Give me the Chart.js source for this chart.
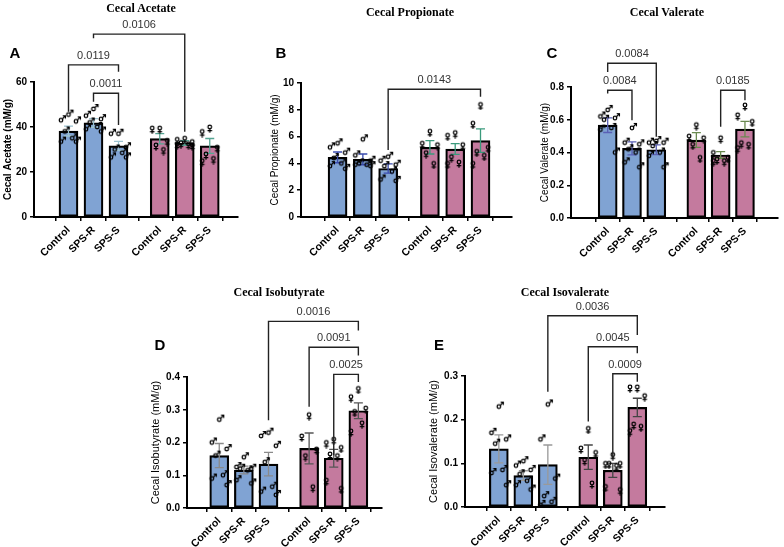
<!DOCTYPE html>
<html><head><meta charset="utf-8">
<script src="https://cdn.jsdelivr.net/npm/chart.js@4.4.1/dist/chart.umd.min.js"></script>
<style>
html,body{margin:0;padding:0;background:#fff;}
body{width:784px;height:547px;position:relative;overflow:hidden;}
canvas{position:absolute;}
.t{position:absolute;font-family:"Liberation Serif","Times New Roman",serif;font-weight:bold;font-size:12px;color:#000;transform:translate(-50%,-50%);white-space:nowrap;z-index:5;}
.l{position:absolute;font-family:"Liberation Sans",Arial,sans-serif;font-weight:bold;font-size:15px;color:#000;transform:translate(-50%,-50%);z-index:5;}
</style></head><body>
<div class="t" style="left:141px;top:8px">Cecal Acetate</div>
<div class="t" style="left:410px;top:12px">Cecal Propionate</div>
<div class="t" style="left:667px;top:12px">Cecal Valerate</div>
<div class="t" style="left:279px;top:292px">Cecal Isobutyrate</div>
<div class="t" style="left:565px;top:292px">Cecal Isovalerate</div>
<div class="l" style="left:15px;top:52px">A</div>
<div class="l" style="left:281px;top:52px">B</div>
<div class="l" style="left:552px;top:52px">C</div>
<div class="l" style="left:160px;top:344px">D</div>
<div class="l" style="left:439px;top:344px">E</div>
<script>
// ---------- data ----------
const categories = ['Control','SPS-R','SPS-S','Control','SPS-R','SPS-S'];
const sexes = ['M','M','M','F','F','F'];

const acetateMean = [38.2, 41.8, 31.6, 34.8, 32.9, 31.6];
const acetateSem  = [2.2, 1.9, 2.0, 2.3, 1.0, 3.3];
const acetatePoints = [
  [45.5, 43, 42.5, 38, 35, 33.5, 33.5],
  [48, 45, 43.5, 42, 40, 39, 38],
  [37, 37, 31, 30, 28.5, 26.5, 26.5],
  [39.5, 39.5, 34, 32, 30],
  [35, 34.5, 33.5, 33, 32.5, 32.5, 32],
  [40, 38, 31, 28, 26, 25]
];
const acetateBrackets = [
  {from:0, to:2, y:67.6, yFrom:46.8, yTo:64.6, label:'0.0119'},
  {from:1, to:2, y:55.0, yFrom:51.2, yTo:40.9, label:'0.0011'},
  {from:1, to:4, y:81.3, yFrom:79.4, yTo:37.9, label:'0.0106'}
];

const propionateMean = [4.45, 4.3, 3.62, 5.2, 5.07, 5.7];
const propionateSem  = [0.4, 0.4, 0.35, 0.5, 0.4, 0.87];
const propionatePoints = [
  [5.5, 5.2, 4.8, 4.4, 4.0, 3.8, 3.6],
  [5.8, 4.6, 4.2, 4.0, 3.9, 3.9, 3.8],
  [4.5, 4.2, 3.9, 3.8, 3.4, 2.8, 2.7],
  [6.4, 5.5, 5.4, 4.8, 4.0],
  [6.3, 6.1, 5.4, 4.5, 4.1, 4.0],
  [8.4, 7.0, 5.2, 4.9, 4.6, 4.0]
];
const propionateBrackets = [
  {from:2, to:5, y:9.53, yFrom:5.0, yTo:8.98, label:'0.0143'}
];

const valerateMean = [0.567, 0.425, 0.417, 0.476, 0.385, 0.543];
const valerateSem  = [0.045, 0.04, 0.03, 0.045, 0.02, 0.047];
const valeratePoints = [
  [0.66, 0.62, 0.61, 0.60, 0.55, 0.54, 0.40],
  [0.55, 0.46, 0.45, 0.42, 0.40, 0.34, 0.31],
  [0.47, 0.46, 0.46, 0.44, 0.40, 0.38, 0.31],
  [0.57, 0.50, 0.49, 0.45, 0.37],
  [0.49, 0.40, 0.37, 0.36, 0.35, 0.35],
  [0.69, 0.63, 0.59, 0.46, 0.45, 0.43]
];
const valerateBrackets = [
  {from:0, to:2, y:0.945, yFrom:0.891, yTo:0.496, label:'0.0084'},
  {from:0, to:1, y:0.78, yFrom:0.76, yTo:0.597, label:'0.0084'},
  {from:4, to:5, y:0.78, yFrom:0.557, yTo:0.719, label:'0.0185'}
];

const isobutyrateMean = [0.16, 0.116, 0.134, 0.182, 0.152, 0.297];
const isobutyrateSem  = [0.037, 0.012, 0.036, 0.047, 0.027, 0.024];
const isobutyratePoints = [
  [0.27, 0.20, 0.18, 0.16, 0.10, 0.09, 0.07],
  [0.155, 0.125, 0.12, 0.12, 0.115, 0.085, 0.075],
  [0.23, 0.22, 0.19, 0.14, 0.065, 0.05, 0.04],
  [0.285, 0.22, 0.18, 0.16, 0.065],
  [0.21, 0.20, 0.185, 0.165, 0.16, 0.085, 0.06],
  [0.365, 0.34, 0.305, 0.295, 0.26, 0.235]
];
const isobutyrateBrackets = [
  {from:2, to:5, y:0.57, yFrom:0.268, yTo:0.542, label:'0.0016'},
  {from:3, to:5, y:0.491, yFrom:0.309, yTo:0.466, label:'0.0091'},
  {from:4, to:5, y:0.408, yFrom:0.161, yTo:0.385, label:'0.0025'}
];

const isovalerateMean = [0.133, 0.072, 0.097, 0.114, 0.084, 0.228];
const isovalerateSem  = [0.032, 0.011, 0.045, 0.028, 0.016, 0.021];
const isovaleratePoints = [
  [0.23, 0.17, 0.155, 0.145, 0.085, 0.078, 0.05],
  [0.105, 0.095, 0.085, 0.075, 0.06, 0.05, 0.04],
  [0.235, 0.155, 0.065, 0.025, 0.012, 0.005],
  [0.18, 0.135, 0.125, 0.108, 0.055],
  [0.12, 0.1, 0.1, 0.1, 0.095, 0.047, 0.04],
  [0.275, 0.275, 0.255, 0.19, 0.185, 0.175]
];
const isovalerateBrackets = [
  {from:2, to:5, y:0.438, yFrom:0.264, yTo:0.394, label:'0.0036'},
  {from:3, to:5, y:0.367, yFrom:0.196, yTo:0.352, label:'0.0045'},
  {from:4, to:5, y:0.305, yFrom:0.112, yTo:0.287, label:'0.0009'}
];

// ---------- layout / style ----------
const GROUP_GAP = 0.65;
const pos = i => i + (i >= 3 ? GROUP_GAP : 0);
const JITTER = [0, -0.3, 0.3, -0.15, 0.15, -0.3, 0.3];
const BLUE = '#80a3d3', PINK = '#c47a9e';

// sex symbols drawn as small images, anchored at the circle centre
function maleGlyph(){
  const c = document.createElement('canvas');
  c.width = 12; c.height = 12;
  const g = c.getContext('2d');
  g.strokeStyle = '#000'; g.lineWidth = 1.3; g.lineCap = 'round';
  const cx = 6, cy = 6, r = 1.8;
  g.beginPath(); g.arc(cx, cy, r, 0, Math.PI*2); g.stroke();
  const sx = cx + r*0.72, sy = cy - r*0.72, ex = cx + 4.4, ey = cy - 4.4;
  g.beginPath(); g.moveTo(sx, sy); g.lineTo(ex, ey); g.stroke();
  g.beginPath(); g.moveTo(ex-2.2, ey); g.lineTo(ex, ey); g.lineTo(ex, ey+2.2); g.stroke();
  return c;
}
function femaleGlyph(){
  const c = document.createElement('canvas');
  c.width = 12; c.height = 12;
  const g = c.getContext('2d');
  g.strokeStyle = '#000'; g.lineWidth = 1.3; g.lineCap = 'round';
  const cx = 6, cy = 6, r = 1.8;
  g.beginPath(); g.arc(cx, cy, r, 0, Math.PI*2); g.stroke();
  g.beginPath(); g.moveTo(cx, cy + r); g.lineTo(cx, cy + 5.2); g.stroke();
  g.beginPath(); g.moveTo(cx - 1.8, cy + 3.7); g.lineTo(cx + 1.8, cy + 3.7); g.stroke();
  return c;
}
const MALE = maleGlyph(), FEMALE = femaleGlyph();

const panels = [
  {id:'A', mean:acetateMean, sem:acetateSem, pts:acetatePoints, br:acetateBrackets,
   ymax:60, step:20, title:'Cecal Acetate (mM/g)', tFont:{size:10, weight:'bold'},
   box:{x:0,y:0,w:262,h:270}, area:{l:34,t:82,r:238,b:217}, yTitleX:8, xmin:-0.7, xmax:6.1,
   err:['#9cc2d0','#55a593']},
  {id:'B', mean:propionateMean, sem:propionateSem, pts:propionatePoints, br:propionateBrackets,
   ymax:10, step:2, title:'Cecal Propionate (mM/g)', tFont:{size:10, weight:'normal'},
   box:{x:262,y:0,w:258,h:270}, area:{l:301,t:83,r:512,b:217}, yTitleX:275, xmin:-0.75, xmax:6.2,
   err:['#3a4cae','#3a9a7c']},
  {id:'C', mean:valerateMean, sem:valerateSem, pts:valeratePoints, br:valerateBrackets,
   ymax:0.8, step:0.2, title:'Cecal Valerate (mM/g)', tFont:{size:10, weight:'normal'},
   box:{x:522,y:0,w:262,h:270}, area:{l:571,t:87,r:783,b:218}, yTitleX:545, xmin:-0.8, xmax:6.3,
   err:['#5a60b5','#6a8a50']},
  {id:'D', mean:isobutyrateMean, sem:isobutyrateSem, pts:isobutyratePoints, br:isobutyrateBrackets,
   ymax:0.4, step:0.1, title:'Cecal Isobutyrate (mM/g)', tFont:{size:11, weight:'normal'},
   box:{x:130,y:270,w:265,h:277}, area:{l:187,t:377,r:382,b:508}, yTitleX:156, xmin:-0.65, xmax:5.95,
   err:['#8a8a8a','#555555']},
  {id:'E', mean:isovalerateMean, sem:isovalerateSem, pts:isovaleratePoints, br:isovalerateBrackets,
   ymax:0.3, step:0.1, title:'Cecal Isovalerate (mM/g)', tFont:{size:11, weight:'normal'},
   box:{x:405,y:270,w:270,h:277}, area:{l:465,t:376,r:665,b:507}, yTitleX:434, xmin:-0.7, xmax:6.1,
   err:['#999999','#444444']}
];

function makeChart(P){
  const cv = document.createElement('canvas');
  cv.width = P.box.w; cv.height = P.box.h;
  cv.style.left = P.box.x + 'px'; cv.style.top = P.box.y + 'px';
  cv.style.width = P.box.w + 'px'; cv.style.height = P.box.h + 'px';
  document.body.appendChild(cv);

  const lh = P.tFont.size * 1.2;
  const padLeft = P.yTitleX - P.box.x - lh/2;
  const padTop = P.area.t - P.box.y;
  const padRight = P.box.x + P.box.w - P.area.r;
  const yW = P.area.l - P.box.x - padLeft;
  const xH = P.box.y + P.box.h - P.area.b;

  const barData = P.mean.map((m,i)=>({x:pos(i), y:m}));
  const ptData = [], ptStyle = [];
  P.pts.forEach((arr,i)=>arr.forEach((v,k)=>{
    ptData.push({x:pos(i) + JITTER[k % JITTER.length], y:v});
    ptStyle.push(sexes[i]==='M' ? MALE : FEMALE);
  }));

  const errPlugin = {
    id:'err'+P.id,
    afterDatasetDraw(chart, args){
      if (args.index !== 1) return;
      const ctx = chart.ctx, xs = chart.scales.x, ys = chart.scales.y;
      ctx.save(); ctx.lineWidth = 1.3;
      P.mean.forEach((m,i)=>{
        const x = xs.getPixelForValue(pos(i));
        const y1 = ys.getPixelForValue(m + P.sem[i]);
        const y2 = ys.getPixelForValue(m - P.sem[i]);
        ctx.strokeStyle = sexes[i]==='M' ? P.err[0] : P.err[1];
        ctx.beginPath();
        ctx.moveTo(x,y1); ctx.lineTo(x,y2);
        ctx.moveTo(x-4.5,y1); ctx.lineTo(x+4.5,y1);
        ctx.moveTo(x-4.5,y2); ctx.lineTo(x+4.5,y2);
        ctx.stroke();
      });
      ctx.restore();
    }
  };
  const brPlugin = {
    id:'br'+P.id,
    afterDraw(chart){
      const ctx = chart.ctx, xs = chart.scales.x, ys = chart.scales.y;
      ctx.save();
      ctx.strokeStyle = '#222'; ctx.lineWidth = 1.4;
      ctx.fillStyle = '#333';
      ctx.font = '11px "Liberation Sans", Arial, sans-serif';
      ctx.textAlign = 'center'; ctx.textBaseline = 'alphabetic';
      P.br.forEach(b=>{
        const xa = xs.getPixelForValue(pos(b.from)), xb = xs.getPixelForValue(pos(b.to));
        const yh = ys.getPixelForValue(b.y);
        ctx.beginPath();
        ctx.moveTo(xa, ys.getPixelForValue(b.yFrom));
        ctx.lineTo(xa, yh); ctx.lineTo(xb, yh);
        ctx.lineTo(xb, ys.getPixelForValue(b.yTo));
        ctx.stroke();
        ctx.fillText(b.label, (xa+xb)/2, yh - 6);
      });
      ctx.restore();
    }
  };

  const axisCommon = {
    grid:{drawOnChartArea:false, drawTicks:true, tickLength:4, color:'#000', lineWidth:1.5},
    border:{color:'#000', width:2}
  };
  new Chart(cv, {
    type:'bar',
    data:{datasets:[
      {type:'scatter', order:1, data:ptData, pointStyle:ptStyle, pointRadius:5, clip:false},
      {type:'bar', order:2, data:barData,
       backgroundColor:sexes.map(s=>s==='M'?BLUE:PINK), borderColor:'#000', borderWidth:2.2,
       borderSkipped:false, barThickness:19}
    ]},
    options:{
      responsive:false, animation:false, devicePixelRatio:1,
      layout:{padding:{left:padLeft, top:padTop, right:padRight, bottom:0}},
      plugins:{legend:{display:false}, tooltip:{enabled:false}},
      scales:{
        x:Object.assign({type:'linear', min:P.xmin, max:P.xmax,
          afterBuildTicks:s=>{ s.ticks = categories.map((c,i)=>({value:pos(i)})); },
          afterFit:s=>{ s.height = xH; },
          ticks:{autoSkip:false, minRotation:45, maxRotation:45, padding:3, color:'#000',
            font:{family:'"Liberation Sans", Arial', weight:'bold', size:10.5},
            callback:(v,i)=>categories[i]}
        }, axisCommon),
        y:Object.assign({min:0, max:P.ymax,
          afterFit:s=>{ s.width = yW; },
          ticks:{stepSize:P.step, padding:3, color:'#000',
            font:{family:'"Liberation Sans", Arial', weight:'bold', size:10},
            callback:v=>P.step<1 ? v.toFixed(1) : String(v)},
          title:{display:true, text:P.title, color:'#000', padding:{top:0,bottom:0},
            font:{family:'"Liberation Sans", Arial', weight:P.tFont.weight, size:P.tFont.size}}
        }, axisCommon)
      }
    },
    plugins:[errPlugin, brPlugin]
  });
}
panels.forEach(makeChart);
</script>
</body></html>
